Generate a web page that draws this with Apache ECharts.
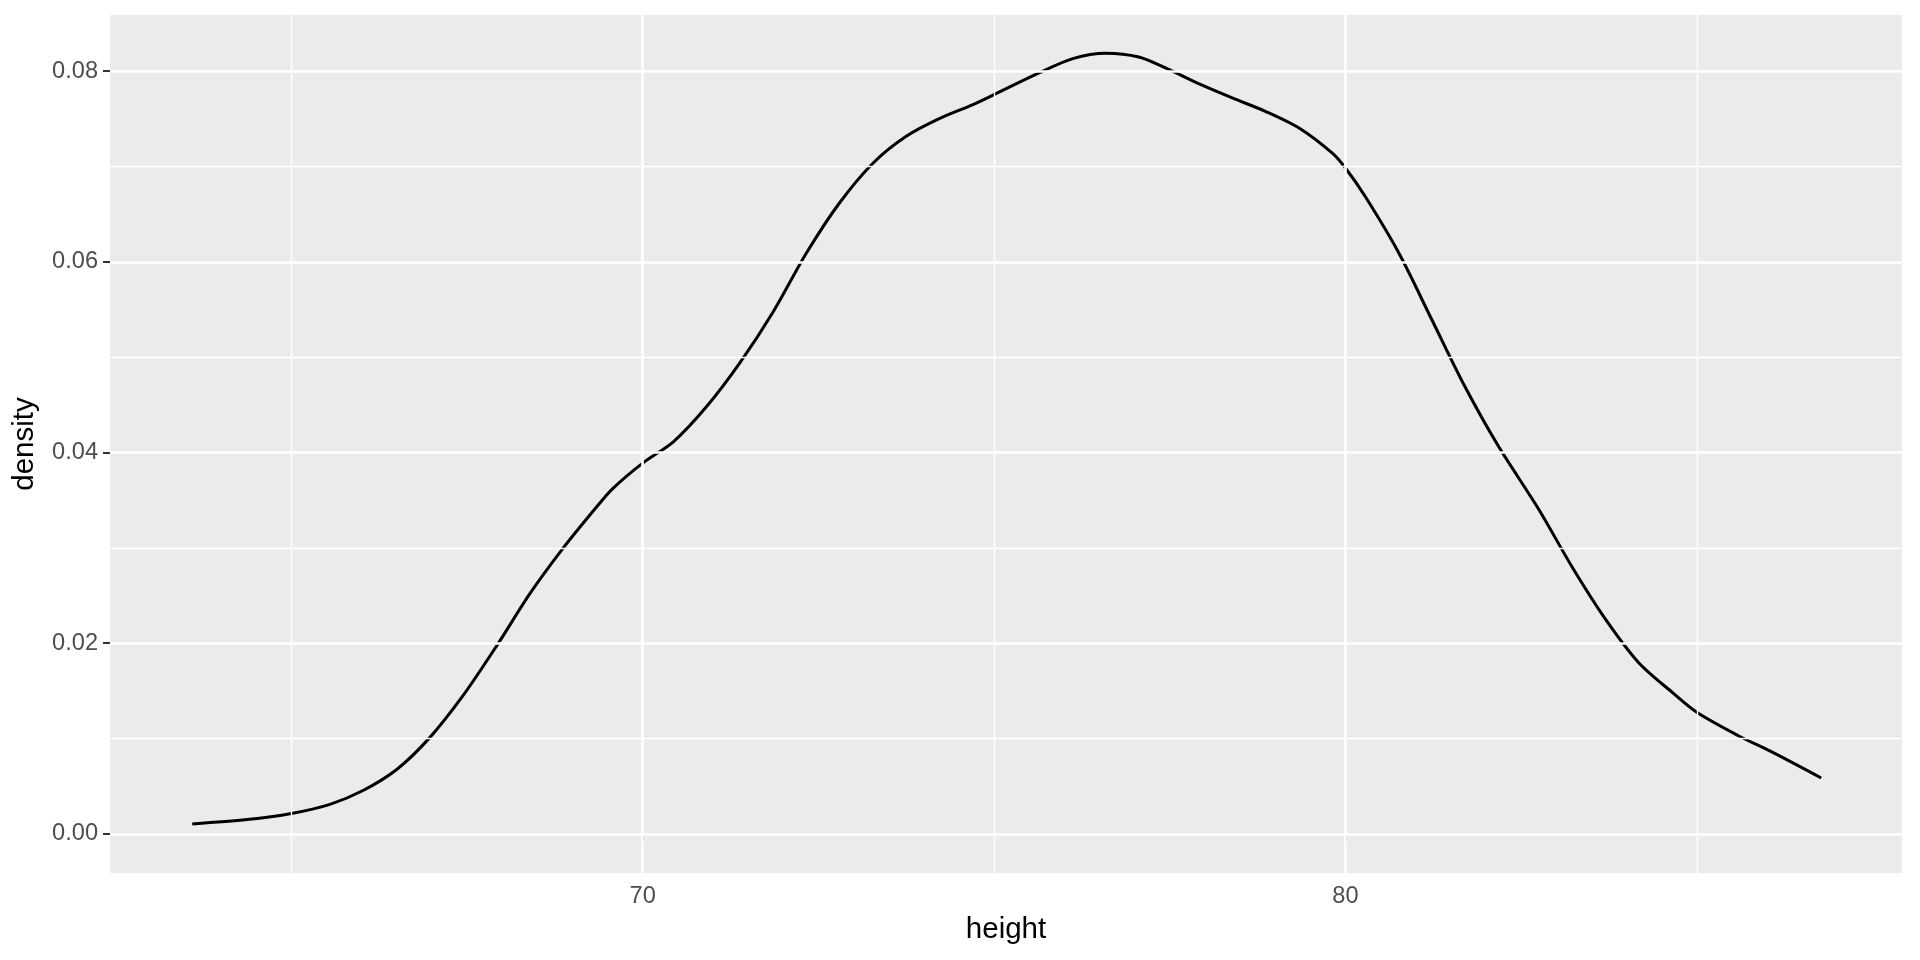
<!DOCTYPE html>
<html>
<head>
<meta charset="utf-8">
<script src="https://cdn.jsdelivr.net/npm/echarts@6/dist/echarts.min.js"></script>
<style>
  html, body { margin: 0; padding: 0; background: #fff; }
  #main { width: 1920px; height: 960px; }
</style>
</head>
<body>
<div id="main"></div>
<script>
// density curve
var heights = [63.59, 64.37, 65.0, 65.55, 66.02, 66.5, 66.97, 67.44, 67.92, 68.39,
  68.86, 69.34, 69.57, 70.0, 70.44, 70.91, 71.38, 71.86, 72.33, 72.8,
  73.28, 73.75, 74.22, 74.7, 75.0, 75.64, 76.12, 76.59, 77.06, 77.44,
  77.92, 78.39, 78.86, 79.34, 79.81, 80.0, 80.28, 80.76, 81.23, 81.7,
  82.18, 82.75, 83.23, 83.7, 84.17, 84.65, 85.0, 85.59, 86.06, 86.77];
var densities = [0.00105, 0.0015, 0.00214, 0.0031, 0.00455, 0.00676, 0.0101, 0.01447, 0.0197, 0.02515,
  0.0299, 0.03426, 0.0362, 0.0389, 0.04116, 0.04483, 0.04938, 0.0548, 0.06093, 0.06618,
  0.07038, 0.07318, 0.07503, 0.0765, 0.07755, 0.07983, 0.08133, 0.0819, 0.0815, 0.08035,
  0.07867, 0.0772, 0.0758, 0.07405, 0.07143, 0.06985, 0.06688, 0.06093, 0.05393, 0.04693,
  0.04063, 0.03406, 0.02795, 0.02253, 0.01799, 0.01485, 0.01275, 0.0103, 0.00863, 0.00587];

var xBreaks = [70, 80];
var xMinorBreaks = [65, 75, 85];
var yBreaks = [0, 0.02, 0.04, 0.06, 0.08];
var yMinorBreaks = [0.01, 0.03, 0.05, 0.07];

var chart = echarts.init(document.getElementById('main'));

var points = heights.map(function (h, i) { return [h, densities[i]]; });

var gridLines = [];
xMinorBreaks.forEach(function (v) { gridLines.push({ xAxis: v, lineStyle: { width: 1.4 } }); });
yMinorBreaks.forEach(function (v) { gridLines.push({ yAxis: v, lineStyle: { width: 1.4 } }); });
xBreaks.forEach(function (v) { gridLines.push({ xAxis: v, lineStyle: { width: 2.7 } }); });
yBreaks.forEach(function (v) { gridLines.push({ yAxis: v, lineStyle: { width: 2.7 } }); });

var font = 'Liberation Sans, Arial, sans-serif';

var option = {
  animation: false,
  backgroundColor: '#ffffff',
  grid: {
    left: 110, top: 15, right: 18, bottom: 87,
    show: true, backgroundColor: '#EBEBEB', borderWidth: 0
  },
  xAxis: {
    type: 'value',
    min: 62.42, max: 87.92,
    name: 'height',
    nameLocation: 'middle',
    nameGap: 42,
    nameTextStyle: { color: '#000', fontSize: 29.5, fontFamily: font },
    axisLine: { show: false },
    axisTick: { show: true, length: 7, customValues: xBreaks, lineStyle: { color: '#333333', width: 2 } },
    axisLabel: { customValues: xBreaks, color: '#4D4D4D', fontSize: 23.6, fontFamily: font, margin: 11 },
    splitLine: { show: false }
  },
  yAxis: {
    type: 'value',
    min: -0.0041, max: 0.0859,
    name: 'density',
    nameLocation: 'middle',
    nameGap: 70,
    nameTextStyle: { color: '#000', fontSize: 29.5, fontFamily: font },
    axisLine: { show: false },
    axisTick: { show: true, length: 7, customValues: yBreaks, lineStyle: { color: '#333333', width: 2 } },
    axisLabel: {
      customValues: yBreaks, color: '#4D4D4D', fontSize: 23.6, fontFamily: font, margin: 12,
      formatter: function (v) { return v.toFixed(2); }
    },
    splitLine: { show: false }
  },
  series: [
    {
      // panel grid lines
      type: 'line',
      data: [],
      z: 1,
      silent: true,
      markLine: {
        silent: true,
        symbol: ['none', 'none'],
        label: { show: false },
        lineStyle: { color: '#ffffff', type: 'solid' },
        data: gridLines
      }
    },
    {
      name: 'density',
      type: 'line',
      data: points,
      z: 3,
      smooth: 0.3,
      showSymbol: false,
      lineStyle: { color: '#000000', width: 3 }
    }
  ]
};

chart.setOption(option);
</script>
</body>
</html>
